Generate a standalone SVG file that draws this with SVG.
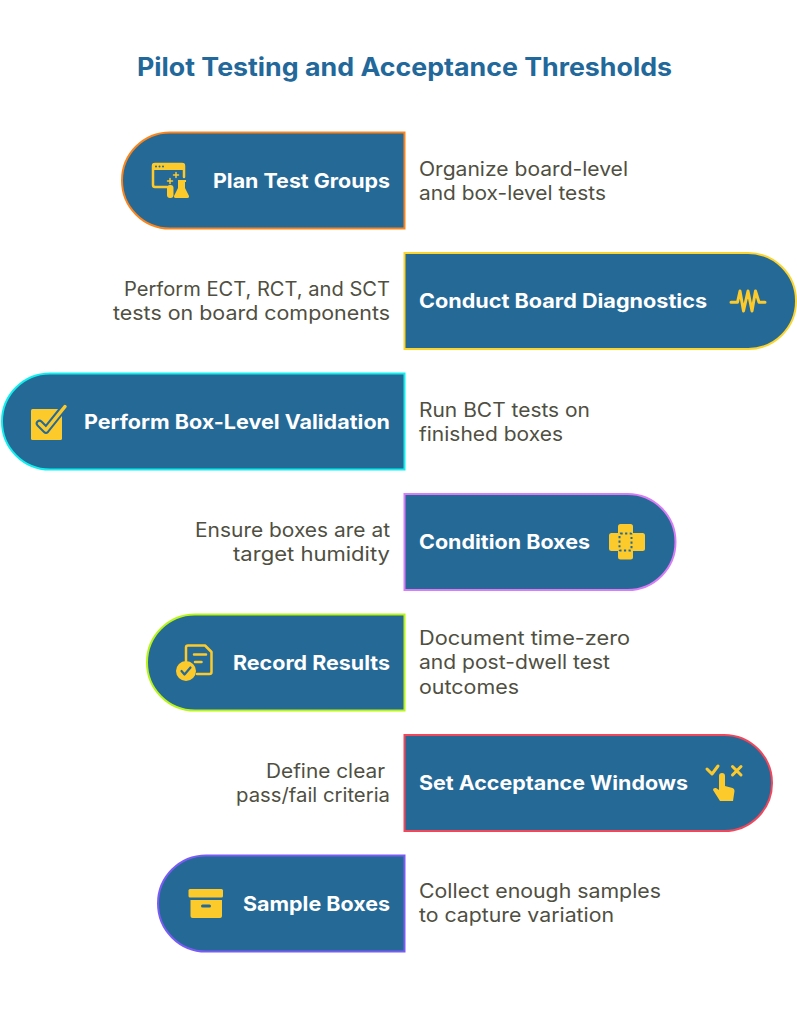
<svg xmlns="http://www.w3.org/2000/svg" width="797" height="1024" viewBox="0 0 797 1024">
<style>
.bg{fill:#fff}
.n{fill:#256997;stroke-width:2}
.t{font-family:"Inter","Liberation Sans",sans-serif;font-weight:700;font-size:20px;fill:#fff}
.d{font-family:"Inter","Liberation Sans",sans-serif;font-size:19.500px;fill:#4f4f42}
.e{text-anchor:end}
.y{fill:#fdca2c}
.yl{fill:none;stroke:#fdca2c;stroke-width:2.500;stroke-linecap:round;stroke-linejoin:round}
.b{fill:#256997}
.h{font-family:"Inter","Liberation Sans",sans-serif;font-weight:700;font-size:25px;fill:#22689a}
</style>
<rect class="bg" width="797" height="1024"/>
<text class="h" x="137" y="76" textLength="535" lengthAdjust="spacingAndGlyphs">Pilot Testing and Acceptance Thresholds</text>
<g id="connectors"/>
<g id="node1">
<path class="n" stroke="#fb851c" d="M404.500 132.500V228.500H170A48 48 0 0 1 170 132.500Z"/>
<g>
<path class="yl" d="M167 187H155Q153 187 153 185V166Q153 164 155 164H182Q184 164 184 166V177"/>
<path class="y" d="M152 166Q152 163 155 163H182Q185 163 185 166V170H152Z"/>
<circle class="b" cx="156" cy="166.500" r="1"/><circle class="b" cx="159.500" cy="166.500" r="1"/><circle class="b" cx="163" cy="166.500" r="1"/>
<path class="yl" style="stroke-width:1.500" d="M176 172.500V177.500M173.500 175H178.500M170 178.500V183.500M167.500 181H172.500"/>
<path class="y" d="M178 180H186V182H185V188L189 196Q189.500 198 187.500 198H175.500Q173.500 198 174 196L178 188V182H178Z"/>
<rect class="y" x="167" y="185" width="6.500" height="13" rx="3"/>
</g>
<text class="t" x="213" y="188" textLength="177" lengthAdjust="spacingAndGlyphs">Plan Test Groups</text>
<text class="d" x="419" y="176" textLength="209" lengthAdjust="spacingAndGlyphs">Organize board-level</text>
<text class="d" x="419" y="200" textLength="187" lengthAdjust="spacingAndGlyphs">and box-level tests</text>
</g>
<g id="node2">
<path class="n" stroke="#fbd42e" d="M404.500 253H748A48 48 0 0 1 748 349H404.500Z"/>
<path class="yl" style="stroke-width:3" d="M731 302.300H737.500L740 291L743.500 311L748 291L752 311L755.500 291L759 302.300H765"/>
<text class="t" x="419" y="308" textLength="288" lengthAdjust="spacingAndGlyphs">Conduct Board Diagnostics</text>
<text class="d e" x="390" y="296" textLength="266" lengthAdjust="spacingAndGlyphs">Perform ECT, RCT, and SCT</text>
<text class="d e" x="390" y="320" textLength="277" lengthAdjust="spacingAndGlyphs">tests on board components</text>
</g>
<g id="node3">
<path class="n" stroke="#10eeee" d="M404.500 373.500V469.500H50A48 48 0 0 1 50 373.500Z"/>
<rect class="y" x="31" y="409" width="31" height="31" rx="1.500"/>
<path d="M39.500 423.500L46 430L62 410" fill="none" stroke="#256997" stroke-width="7.500" stroke-linecap="round" stroke-linejoin="round"/>
<path class="yl" style="stroke-width:3.500" d="M39.500 423.500L46 430L65 406.500"/>
<text class="t" x="84" y="429" textLength="306" lengthAdjust="spacingAndGlyphs">Perform Box-Level Validation</text>
<text class="d" x="419" y="417" textLength="171" lengthAdjust="spacingAndGlyphs">Run BCT tests on</text>
<text class="d" x="419" y="441" textLength="144" lengthAdjust="spacingAndGlyphs">finished boxes</text>
</g>
<g id="node4">
<path class="n" stroke="#d97cf5" d="M404.500 494H627.500A48 48 0 0 1 627.500 590H404.500Z"/>
<rect class="y" x="618" y="524" width="15" height="35.500" rx="2.500"/>
<rect class="y" x="609" y="533" width="36" height="18" rx="2.500"/>
<rect x="619.500" y="533.500" width="12" height="17" rx="1" fill="none" stroke="#256997" stroke-width="2" stroke-dasharray="2.200 2.400"/>
<text class="t" x="419" y="549" textLength="171" lengthAdjust="spacingAndGlyphs">Condition Boxes</text>
<text class="d e" x="390" y="537" textLength="195" lengthAdjust="spacingAndGlyphs">Ensure boxes are at</text>
<text class="d e" x="390" y="561" textLength="157" lengthAdjust="spacingAndGlyphs">target humidity</text>
</g>
<g id="node5">
<path class="n" stroke="#b8f516" d="M404.500 614.500V710.500H195A48 48 0 0 1 195 614.500Z"/>
<path class="yl" d="M186 661V647.500Q186 645.500 188 645.500H205L211.500 652V672Q211.500 674 209.500 674H197"/>
<path class="yl" d="M194 654.500H206M195 662H201.500"/>
<circle class="y" cx="186" cy="671" r="10"/>
<path d="M181.500 671L184.500 674.500L190.500 667.500" fill="none" stroke="#256997" stroke-width="2.200" stroke-linecap="round" stroke-linejoin="round"/>
<text class="t" x="233" y="670" textLength="157" lengthAdjust="spacingAndGlyphs">Record Results</text>
<text class="d" x="419" y="645" textLength="211" lengthAdjust="spacingAndGlyphs">Document time-zero</text>
<text class="d" x="419" y="669" textLength="191" lengthAdjust="spacingAndGlyphs">and post-dwell test</text>
<text class="d" x="419" y="694" textLength="100" lengthAdjust="spacingAndGlyphs">outcomes</text>
</g>
<g id="node6">
<path class="n" stroke="#f4465a" d="M404.500 735H724A48 48 0 0 1 724 831H404.500Z"/>
<path class="yl" style="stroke-width:3" d="M707 769L712 774L718 766M732.500 766.500L741 775M741 766.500L732.500 775"/>
<path class="y" d="M719 776A3 3 0 0 1 725 776V786L732.500 788Q734.500 788.500 734.500 791L733 801H720L713 790Q713 787.500 716 788L719 790Z"/>
<text class="t" x="419" y="790" textLength="269" lengthAdjust="spacingAndGlyphs">Set Acceptance Windows</text>
<text class="d e" x="385" y="778" textLength="119" lengthAdjust="spacingAndGlyphs">Define clear</text>
<text class="d e" x="390" y="802" textLength="154" lengthAdjust="spacingAndGlyphs">pass/fail criteria</text>
</g>
<g id="node7">
<path class="n" stroke="#7a5cf5" d="M404.500 855.500V951.500H206A48 48 0 0 1 206 855.500Z"/>
<rect class="y" x="188.500" y="889" width="34.500" height="8.500" rx="1.500"/>
<path class="y" d="M190.500 900H222V916Q222 918 220 918H192.500Q190.500 918 190.500 916Z"/>
<rect class="b" x="201" y="904.500" width="10" height="3" rx="1.500"/>
<text class="t" x="243" y="911" textLength="147" lengthAdjust="spacingAndGlyphs">Sample Boxes</text>
<text class="d" x="419" y="898" textLength="242" lengthAdjust="spacingAndGlyphs">Collect enough samples</text>
<text class="d" x="419" y="922" textLength="195" lengthAdjust="spacingAndGlyphs">to capture variation</text>
</g>
</svg>
